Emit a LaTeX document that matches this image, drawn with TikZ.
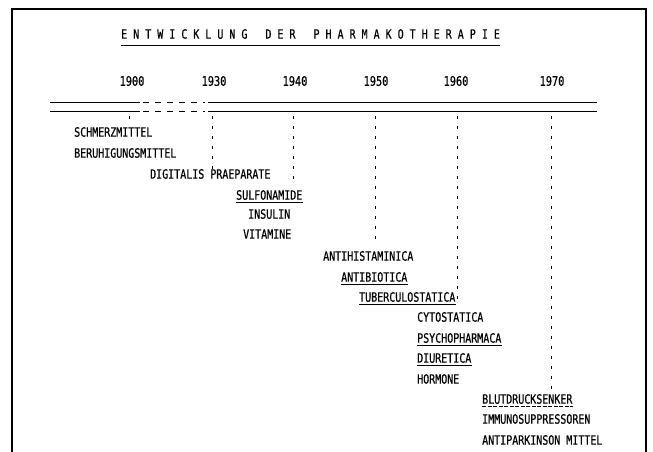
\documentclass[tikz,border=0pt]{standalone}
\usepackage{fontspec}
\newfontfamily\printfont[FakeStretch=0.78,FakeBold=0.5]{DejaVu Sans Mono}
\begin{document}
\begin{tikzpicture}[x=1pt,y=-1pt,
    entry/.style={anchor=west,inner sep=0pt,font=\printfont\fontsize{12.8}{14}\selectfont},
    yearlabel/.style={inner sep=0pt,font=\printfont\fontsize{13.2}{14}\selectfont},
    guide/.style={line width=.8pt,dash pattern=on 3pt off 7pt},
    axis/.style={line width=.8pt},
    uline/.style={line width=.8pt}]
    \useasboundingbox (0,0) rectangle (653,452);
    % frame
    \draw[line width=1.4pt] (12,452) -- (12,9) -- (646,9) -- (646,452);
    % title
    \node[entry] (title) at (121,34)
        {E N T W I C K L U N G~~~D E R~~~P H A R M A K O T H E R A P I E};
    \draw[uline] ([yshift=-6.5pt]title.base west) -- ([yshift=-6.5pt]title.base east);
    % years
    \node[yearlabel] (y1900) at (132,81) {1900};
    \node[yearlabel] (y1930) at (214,81) {1930};
    \node[yearlabel] (y1940) at (295,81) {1940};
    \node[yearlabel] (y1950) at (376,81) {1950};
    \node[yearlabel] (y1960) at (456,81) {1960};
    \node[yearlabel] (y1970) at (552,81) {1970};
    % double time axis
    \foreach \h in {102,111} {
        \draw[axis] (50,\h) -- (140,\h);
        \draw[axis,dash pattern=on 6pt off 6pt] (143,\h) -- (205,\h);
        \draw[axis] (208,\h) -- (597,\h);
    }
    % guides down from the axis
    \coordinate (g1900) at (129,116);  \coordinate (e1900) at (129,122);
    \coordinate (g1930) at (212,116);  \coordinate (e1930) at (212,170);
    \coordinate (g1940) at (293,116);  \coordinate (e1940) at (293,180);
    \coordinate (g1950) at (375,116);  \coordinate (e1950) at (375,244);
    \coordinate (g1960) at (457,116);  \coordinate (e1960) at (457,300);
    \coordinate (g1970) at (551,116);  \coordinate (e1970) at (551,390);
    \foreach \yr in {1900,1930,1940,1950,1960,1970}
        \draw[guide] (g\yr) -- (e\yr);
    % entries
    \node[entry] (schmerz) at (74,132) {SCHMERZMITTEL};
    \node[entry] (beruh) at (74,153) {BERUHIGUNGSMITTEL};
    \node[entry] (digit) at (150,174) {DIGITALIS PRAEPARATE};
    \node[entry] (sulfo) at (236,195) {SULFONAMIDE};
    \node[entry] (insul) at (248,214) {INSULIN};
    \node[entry] (vitam) at (243,234) {VITAMINE};
    \node[entry] (antihist) at (323,256) {ANTIHISTAMINICA};
    \node[entry] (antibio) at (341,277) {ANTIBIOTICA};
    \node[entry] (tuberc) at (359,297) {TUBERCULOSTATICA};
    \node[entry] (cyto) at (417,317) {CYTOSTATICA};
    \node[entry] (psycho) at (417,338) {PSYCHOPHARMACA};
    \node[entry] (diur) at (417,358) {DIURETICA};
    \node[entry] (horm) at (417,379) {HORMONE};
    \node[entry] (blut) at (482,399) {BLUTDRUCKSENKER};
    \node[entry] (immuno) at (482,419) {IMMUNOSUPPRESSOREN};
    \node[entry] (antipark) at (482,440) {ANTIPARKINSON MITTEL};
    % underlines
    \foreach \n in {sulfo,antibio,tuberc,psycho,diur}
        \draw[uline] ([yshift=-3pt]\n.base west) -- ([yshift=-3pt]\n.base east);
    \draw[uline,dash pattern=on 4pt off 1.5pt] ([yshift=-3pt]blut.base west) -- ([yshift=-3pt]blut.base east);
\end{tikzpicture}
\end{document}
